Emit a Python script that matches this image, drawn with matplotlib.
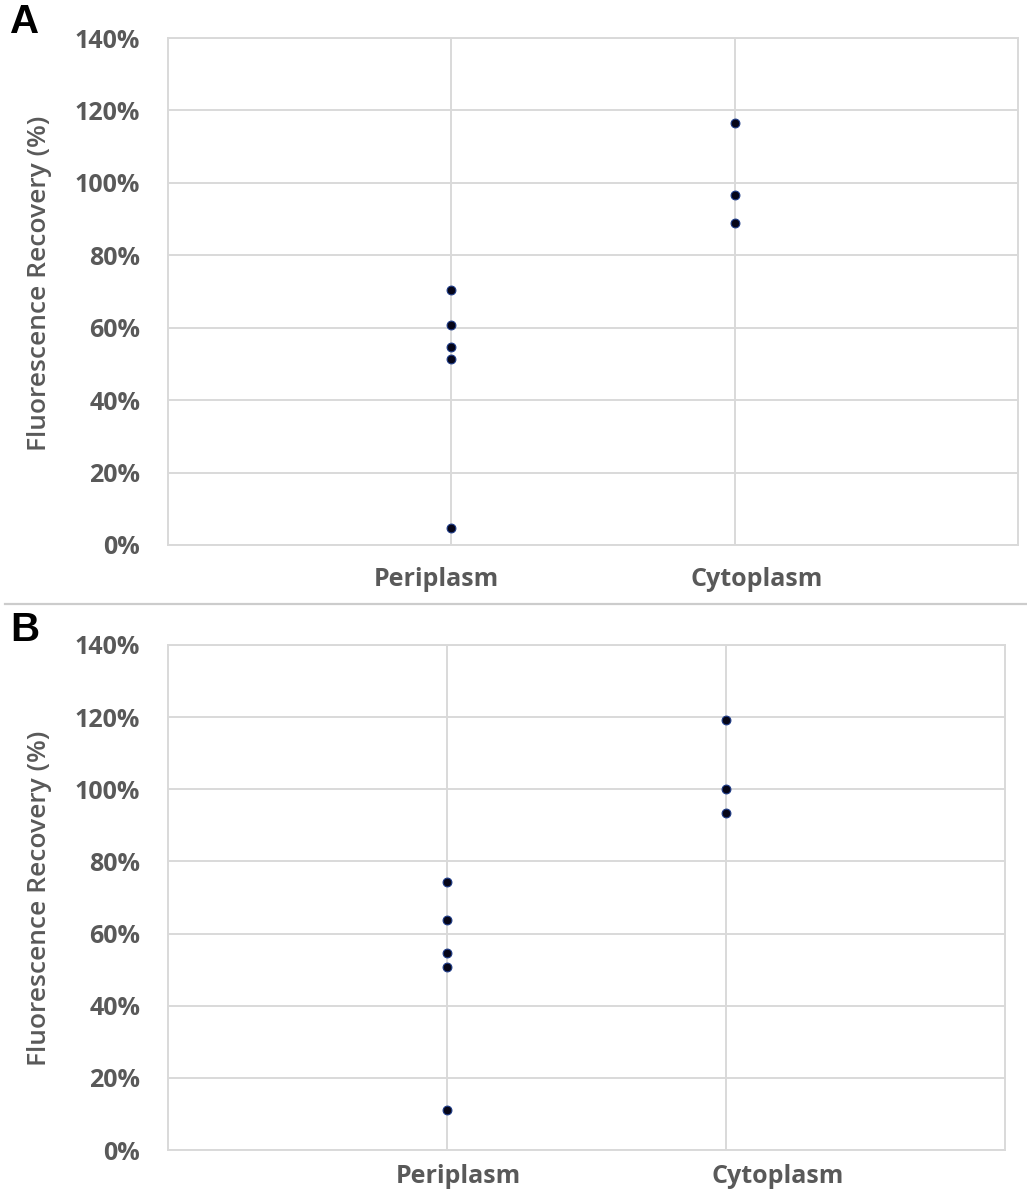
import matplotlib
matplotlib.use("Agg")
import matplotlib.pyplot as plt
from matplotlib.lines import Line2D
from matplotlib.ticker import MultipleLocator, PercentFormatter, FixedLocator, NullFormatter

# data (percent)
categories = ["Periplasm", "Cytoplasm"]
a_periplasm = [70.5, 60.7, 54.8, 51.4, 4.8]
a_cytoplasm = [116.5, 96.7, 88.9]
b_periplasm = [74.2, 63.7, 54.6, 50.6, 11.0]
b_cytoplasm = [119.1, 100.0, 93.4]

W, H = 1027, 1193
TEXT_GREY = "#595959"
GRID_GREY = "#d9d9d9"
FONT = "Open Sans"


def px_rect(left, top, right, bottom):
    """Pixel box -> figure fraction rect."""
    return [left / W, 1 - bottom / H, (right - left) / W, (bottom - top) / H]


def draw_panel(ax, peri, cyto, label_pos, xpad):
    groups = [peri, cyto]
    for i, vals in enumerate(groups):
        ax.scatter([i + 1] * len(vals), vals, s=40, color="#050518",
                   edgecolor="#1f3c88", linewidth=0.8, zorder=3)

    ax.set_xlim(0, 3)
    ax.set_ylim(0, 140)
    # gridlines sit on the categories, the labels are shifted a bit (as in the original)
    ax.xaxis.set_major_locator(FixedLocator([1, 2]))
    ax.xaxis.set_major_formatter(NullFormatter())
    ax.set_xticks(label_pos, minor=True)
    ax.set_xticklabels(categories, minor=True)
    ax.yaxis.set_major_locator(MultipleLocator(20))
    ax.yaxis.set_major_formatter(PercentFormatter(decimals=0))

    ax.grid(True, which="major", color=GRID_GREY, linewidth=1.4, zorder=0)
    ax.set_axisbelow(True)
    for sp in ax.spines.values():
        sp.set_color(GRID_GREY)
        sp.set_linewidth(1.4)

    ax.tick_params(which="both", length=0, colors=TEXT_GREY)
    ax.tick_params(axis="y", pad=20)
    ax.tick_params(axis="x", which="minor", pad=xpad)
    labs = ax.get_xticklabels(minor=True) + ax.get_yticklabels()
    for lab in labs:
        lab.set_fontfamily(FONT)
        lab.set_fontweight("bold")
        lab.set_fontsize(18)
        lab.set_color(TEXT_GREY)


fig = plt.figure(figsize=(W / 100, H / 100), dpi=100)

ax_a = fig.add_axes(px_rect(168, 38, 1018, 545))
draw_panel(ax_a, a_periplasm, a_cytoplasm, [0.946, 2.079], 16)

ax_b = fig.add_axes(px_rect(168, 645, 1005, 1150))
draw_panel(ax_b, b_periplasm, b_cytoplasm, [1.039, 2.186], 10)

# y-axis titles
for yc in (283, 898):
    fig.text(40 / W, 1 - yc / H, "Fluorescence Recovery (%)", rotation=90,
             ha="center", va="center", fontsize=19, color=TEXT_GREY,
             fontfamily=FONT, fontweight="semibold")

# panel letters
fig.text(10 / W, 1 - 22 / H, "A", fontsize=29, fontweight="bold",
         fontfamily="Liberation Sans", va="center", ha="left")
fig.text(10 / W, 1 - 630 / H, "B", fontsize=29, fontweight="bold",
         fontfamily="Liberation Sans", va="center", ha="left")

# separator between panels
fig.add_artist(Line2D([5 / W, 1.0], [1 - 604 / H] * 2, color="#cccccc",
                      linewidth=1.6, transform=fig.transFigure))

fig.savefig("out.png", dpi=100)
